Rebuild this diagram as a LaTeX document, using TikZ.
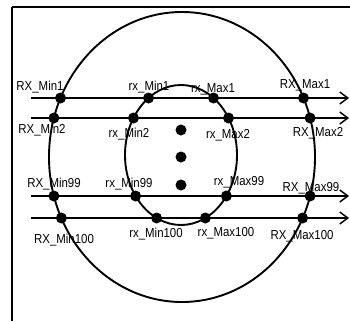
\documentclass[tikz,border=0pt]{standalone}
\usepackage{fontspec}
\newfontfamily\tagfont[FakeStretch=0.88]{Liberation Sans}
\usetikzlibrary{arrows.meta}
\begin{document}
\begin{tikzpicture}[x=1pt,y=-1pt,line width=1.9pt,
 dot/.style={circle,fill,inner sep=0pt,minimum size=11pt},
 tag/.style={font=\tagfont\fontsize{13}{13}\selectfont,inner sep=0pt},
 ray/.style={-{Straight Barb[length=8pt,width=12pt,line width=1.5pt]}}]
\useasboundingbox (0,0) rectangle (350,321);
% frame
\draw (12,7) -- (350,7);
\draw (12,7) -- (12,321);
% outer and inner circles
\draw (182,157) ellipse [x radius=133,y radius=145];
\draw (181,155) ellipse [x radius=56,y radius=70];
% scan lines
\foreach \n/\y in {1/98,2/118,99/196,100/218}{
 \coordinate (s\n) at (31,\y);
 \coordinate (e\n) at (349,\y);
 \draw[ray] (s\n) -- (e\n);
}
% crossing points
\node[dot] (RMin1) at (60.5,98) {};
\node[dot] (rMin1) at (148.5,98) {};
\node[dot] (rMax1) at (213.5,98) {};
\node[dot] (RMax1) at (303.5,98) {};
\node[dot] (RMin2) at (53.9,118) {};
\node[dot] (rMin2) at (133.5,118) {};
\node[dot] (rMax2) at (228.5,118) {};
\node[dot] (RMax2) at (310.1,118) {};
\node[dot] (RMin99) at (53.9,196) {};
\node[dot] (rMin99) at (135.6,196) {};
\node[dot] (rMax99) at (226.4,196) {};
\node[dot] (RMax99) at (310.1,196) {};
\node[dot] (RMin100) at (61.4,218) {};
\node[dot] (rMin100) at (156.6,218) {};
\node[dot] (rMax100) at (205.4,218) {};
\node[dot] (RMax100) at (302.6,218) {};
% lines in between
\node[dot] (m1) at (181,130) {};
\node[dot] (m2) at (181,157) {};
\node[dot] (m3) at (181,185) {};
% labels
\node[tag] (tRMin1) at (40,87) {RX\_Min1};
\node[tag] (trMin1) at (149,87) {rx\_Min1};
\node[tag] (trMax1) at (213,89) {rx\_Max1};
\node[tag] (tRMax1) at (305,85) {RX\_Max1};
\node[tag] (tRMin2) at (42,130) {RX\_Min2};
\node[tag] (trMin2) at (129,134) {rx\_Min2};
\node[tag] (trMax2) at (228,135) {rx\_Max2};
\node[tag] (tRMax2) at (318,133) {RX\_Max2};
\node[tag] (tRMin99) at (54,184) {RX\_Min99};
\node[tag] (trMin99) at (129,184) {rx\_Min99};
\node[tag] (trMax99) at (239,182) {rx\_Max99};
\node[tag] (tRMax99) at (311,188) {RX\_Max99};
\node[tag] (tRMin100) at (64,240) {RX\_Min100};
\node[tag] (trMin100) at (156,234) {rx\_Min100};
\node[tag] (trMax100) at (226,233) {rx\_Max100};
\node[tag] (tRMax100) at (302,236) {RX\_Max100};
\end{tikzpicture}
\end{document}
